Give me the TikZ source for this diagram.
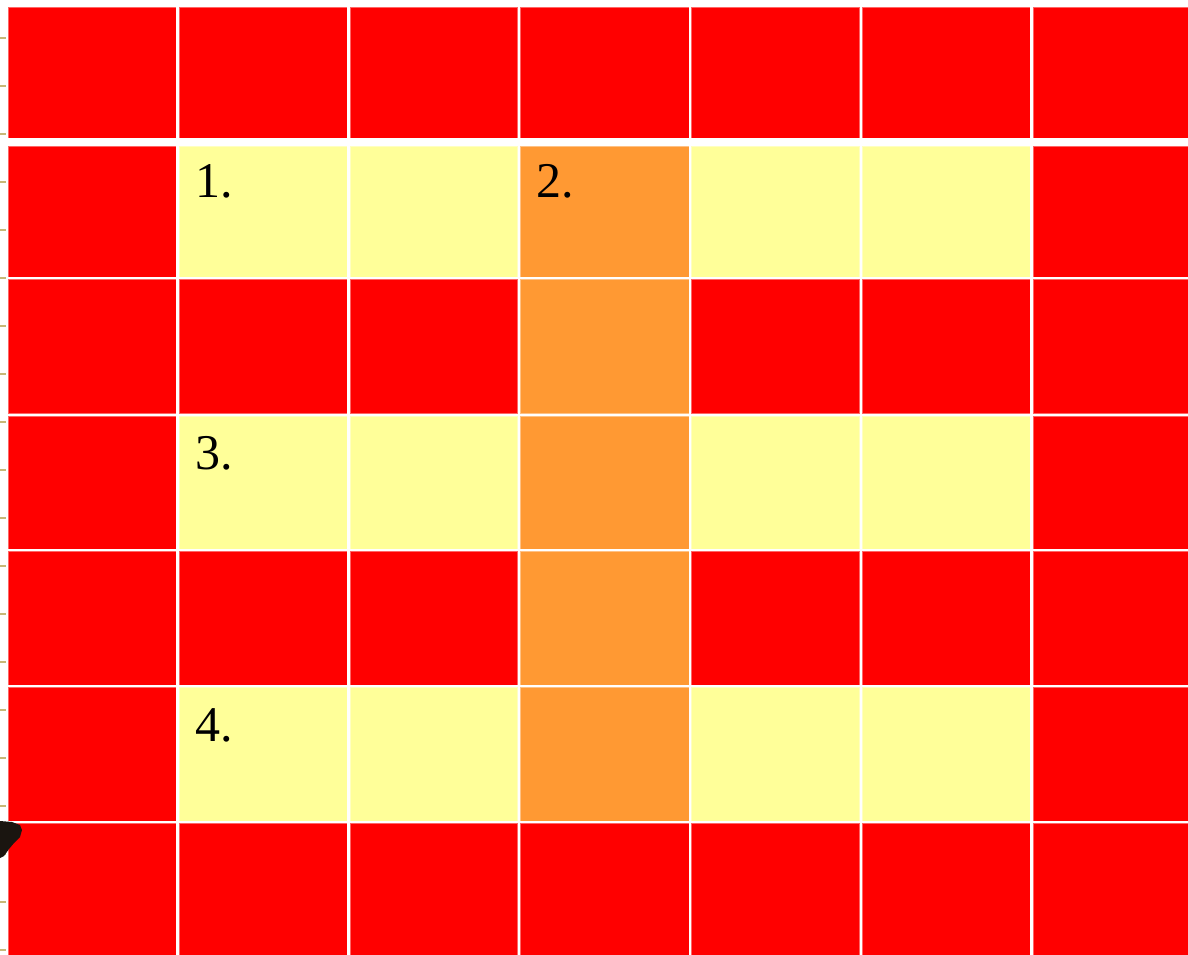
\documentclass[tikz,border=0pt]{standalone}
\usepackage{fontspec}
\setmainfont{Liberation Serif}
\definecolor{cellred}{HTML}{FF0000}
\definecolor{cellyellow}{HTML}{FFFF99}
\definecolor{cellorange}{HTML}{FF9933}
\definecolor{tickcol}{HTML}{C8B878}
\definecolor{blobcol}{HTML}{1A1510}
\begin{document}
\begin{tikzpicture}[x=1pt,y=-1pt,
  cell/.style={fill=#1, draw=white, draw opacity=0.4, line width=1pt},
  tickmark/.style={draw=tickcol, line width=1.6pt},
  num/.style={anchor=base west, inner sep=0pt, font=\fontsize{50}{60}\selectfont}]
\useasboundingbox (0,0) rectangle (1188,954);
\fill[white] (0,0) rectangle (1188,954);
% ruler ticks on the left edge
\foreach \k in {0,...,19} \draw[tickmark] (0,{38+48*\k}) -- (6,{38+48*\k});
% grid cells
\foreach [count=\r] \ya/\yb in {7/138,146/277,279/413.5,416/549,551/685,687/821,823/958} {
  \foreach [count=\c] \xa/\xb in {8/176,179/347,350/517.5,520/689,691/859.5,862/1030,1033/1192} {
    \def\cc{cellred}
    \ifnum\r>1 \ifnum\r<7
      \ifnum\c=4 \def\cc{cellorange}\else
        \ifodd\r\else
          \ifnum\c>1 \ifnum\c<7 \def\cc{cellyellow}\fi\fi
        \fi
      \fi
    \fi\fi
    \path[cell=\cc] (\xa,\ya) rectangle (\xb,\yb);
  }
}
% dark blob at left edge
\fill[blobcol] (0,821) -- (12,822) -- (20,825) -- (22,830) -- (20,837) -- (14,843) -- (9,849) -- (4,856) -- (0,858) -- cycle;
% labels
\node[num] (n1) at (195,197) {1.};
\node[num] (n2) at (536,197) {2.};
\node[num] (n3) at (195,469) {3.};
\node[num] (n4) at (195,741) {4.};
\end{tikzpicture}
\end{document}
